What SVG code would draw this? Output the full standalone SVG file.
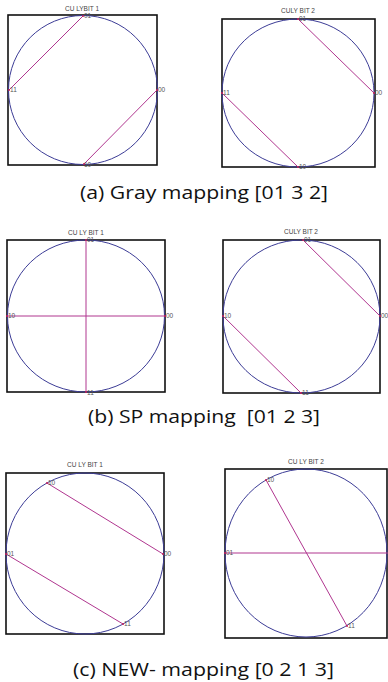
<svg xmlns="http://www.w3.org/2000/svg" width="388" height="682" viewBox="0 0 388 682">
<style>
.box{fill:none;stroke:#111;stroke-width:1.6}
.circ{fill:none;stroke:#3c3c96;stroke-width:1}
.ln{stroke:#b0368f;stroke-width:1;fill:none}
.pt{fill:#c0205a}
.ttl{font-family:"Liberation Sans",Arial,sans-serif;font-size:6.5px;fill:#444;text-anchor:middle}
.lbl{font-family:"Liberation Sans",Arial,sans-serif;font-size:6.5px;fill:#555}
.cap{font-family:"Open Sans","Noto Sans",sans-serif;font-size:19px;fill:#111;text-anchor:middle}
</style>
<rect width="388" height="682" fill="#fff"/>

<g id="panel-a1">
<rect class="box" x="8" y="15" width="149" height="150"/>
<circle class="circ" cx="83" cy="90" r="74.5"/>
<text class="ttl" x="82" y="11">CU LYBIT 1</text>
<g id="connectors-a1">
<line class="ln" x1="83" y1="16" x2="9" y2="90"/>
<line class="ln" x1="157" y1="90" x2="84" y2="164"/>
</g>
<circle class="pt" cx="83" cy="16" r="1"/><circle class="pt" cx="9" cy="90" r="1"/><circle class="pt" cx="157" cy="90" r="1"/><circle class="pt" cx="84" cy="164" r="1"/>
<text class="lbl" x="84" y="18">01</text>
<text class="lbl" x="10" y="92">11</text>
<text class="lbl" x="158" y="92">00</text>
<text class="lbl" x="84" y="167">10</text>
</g>

<g id="panel-a2">
<rect class="box" x="222" y="19" width="153" height="148"/>
<ellipse class="circ" cx="298" cy="93" rx="76" ry="74"/>
<text class="ttl" x="298" y="13">CULY BIT 2</text>
<g id="connectors-a2">
<line class="ln" x1="298" y1="19" x2="374" y2="93"/>
<line class="ln" x1="222" y1="93" x2="298" y2="167"/>
</g>
<circle class="pt" cx="298" cy="19" r="1"/><circle class="pt" cx="374" cy="93" r="1"/><circle class="pt" cx="222" cy="93" r="1"/><circle class="pt" cx="298" cy="167" r="1"/>
<text class="lbl" x="299" y="21">01</text>
<text class="lbl" x="223" y="95">11</text>
<text class="lbl" x="375" y="95">00</text>
<text class="lbl" x="299" y="169">10</text>
</g>

<text class="cap" x="204" y="199" textLength="248" lengthAdjust="spacingAndGlyphs">(a) Gray mapping [01 3 2]</text>

<g id="panel-b1">
<rect class="box" x="7" y="240" width="158" height="152"/>
<ellipse class="circ" cx="86" cy="316" rx="78.5" ry="76"/>
<text class="ttl" x="86" y="235">CU LY BIT 1</text>
<g id="connectors-b1">
<line class="ln" x1="86" y1="240" x2="86" y2="392"/>
<line class="ln" x1="7" y1="316" x2="165" y2="316"/>
</g>
<circle class="pt" cx="86" cy="240" r="1"/><circle class="pt" cx="86" cy="392" r="1"/><circle class="pt" cx="7" cy="316" r="1"/><circle class="pt" cx="165" cy="316" r="1"/>
<text class="lbl" x="87" y="242">01</text>
<text class="lbl" x="8" y="318">10</text>
<text class="lbl" x="166" y="318">00</text>
<text class="lbl" x="87" y="395">11</text>
</g>

<g id="panel-b2">
<rect class="box" x="223" y="240" width="157" height="153"/>
<ellipse class="circ" cx="301.5" cy="316.5" rx="78.5" ry="76.5"/>
<text class="ttl" x="301" y="234">CULY BIT 2</text>
<g id="connectors-b2">
<line class="ln" x1="303" y1="240" x2="380" y2="316"/>
<line class="ln" x1="223" y1="316" x2="301" y2="393"/>
</g>
<circle class="pt" cx="303" cy="240" r="1"/><circle class="pt" cx="380" cy="316" r="1"/><circle class="pt" cx="223" cy="316" r="1"/><circle class="pt" cx="301" cy="393" r="1"/>
<text class="lbl" x="304" y="242">01</text>
<text class="lbl" x="224" y="318">10</text>
<text class="lbl" x="381" y="318">00</text>
<text class="lbl" x="302" y="395">11</text>
</g>

<text class="cap" x="204" y="423" textLength="232" lengthAdjust="spacingAndGlyphs" xml:space="preserve">(b) SP mapping  [01 2 3]</text>

<g id="panel-c1">
<rect class="box" x="6" y="473" width="158" height="161"/>
<ellipse class="circ" cx="85" cy="553.5" rx="79" ry="80.5"/>
<text class="ttl" x="85" y="467">CU LY BIT 1</text>
<g id="connectors-c1">
<line class="ln" x1="47" y1="483" x2="163" y2="554"/>
<line class="ln" x1="6" y1="554" x2="123" y2="624"/>
</g>
<circle class="pt" cx="47" cy="483" r="1"/><circle class="pt" cx="163" cy="554" r="1"/><circle class="pt" cx="6" cy="554" r="1"/><circle class="pt" cx="123" cy="624" r="1"/>
<text class="lbl" x="48" y="485">10</text>
<text class="lbl" x="7" y="556">01</text>
<text class="lbl" x="164" y="556">00</text>
<text class="lbl" x="124" y="626">11</text>
</g>

<g id="panel-c2">
<rect class="box" x="225" y="469" width="162" height="169"/>
<ellipse class="circ" cx="306" cy="553" rx="81" ry="84"/>
<text class="ttl" x="306" y="464">CU LY BIT 2</text>
<g id="connectors-c2">
<line class="ln" x1="225" y1="553" x2="388" y2="553"/>
<line class="ln" x1="266" y1="480" x2="347" y2="626"/>
</g>
<circle class="pt" cx="266" cy="480" r="1"/><circle class="pt" cx="225" cy="553" r="1"/><circle class="pt" cx="347" cy="626" r="1"/>
<text class="lbl" x="267" y="482">10</text>
<text class="lbl" x="226" y="555">01</text>
<text class="lbl" x="348" y="628">11</text>
</g>

<text class="cap" x="203.5" y="676" textLength="261" lengthAdjust="spacingAndGlyphs">(c) NEW- mapping [0 2 1 3]</text>
</svg>
